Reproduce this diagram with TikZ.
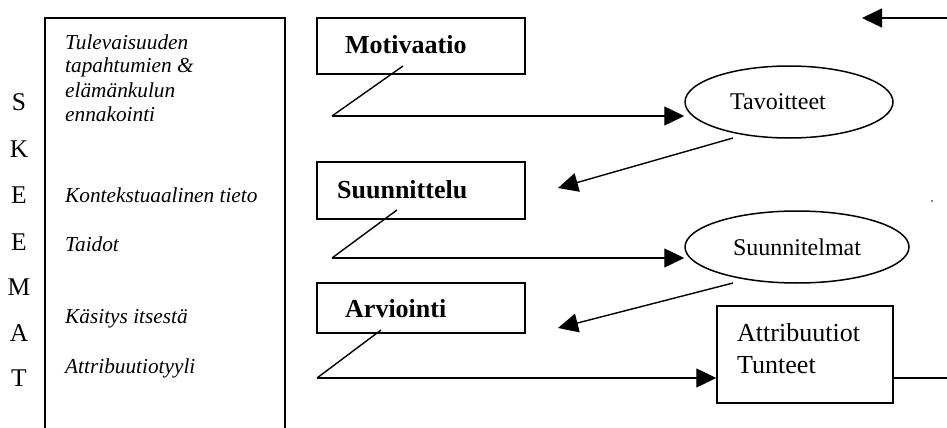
\documentclass[tikz,border=0pt]{standalone}
\usepackage{fontspec}
\setmainfont{Liberation Serif}
\usetikzlibrary{arrows.meta,shapes.geometric}

\tikzset{
  stagebox/.style={draw, line width=1.5pt, inner sep=0pt},
  goalnode/.style={draw, ellipse, line width=1.5pt, inner sep=0pt,
    font=\fontsize{24}{28}\selectfont},
  stagetext/.style={anchor=base west, inner sep=0pt, font=\fontsize{26}{30}\selectfont\bfseries},
  schematext/.style={anchor=base west, inner sep=0pt, font=\fontsize{21.3}{24}\selectfont\itshape},
  letter/.style={anchor=base, inner sep=0pt, font=\fontsize{25.5}{28}\selectfont},
  link/.style={line width=1.4pt},
  arr/.style={line width=1.4pt, -{Triangle[length=20pt,width=19pt]}},
}

\begin{document}
\begin{tikzpicture}[x=1pt,y=-1pt]
\useasboundingbox (0,0) rectangle (947,428);

% skemat
\draw[line width=1.5pt] (45,428) -- (45,18) -- (285,18) -- (285,428);
\node[letter] (s1) at (19,110) {S};
\node[letter] (s2) at (19,157) {K};
\node[letter] (s3) at (19,203) {E};
\node[letter] (s4) at (19,250) {E};
\node[letter] (s5) at (19,295) {M};
\node[letter] (s6) at (19,341) {A};
\node[letter] (s7) at (19,386) {T};

\node[schematext] (tul1) at (65,49) {Tulevaisuuden};
\node[schematext] (tul2) at (65,73) {tapahtumien \&};
\node[schematext] (tul3) at (65,97) {elämänkulun};
\node[schematext] (tul4) at (65,121) {ennakointi};
\node[schematext] (kon) at (65,202) {Kontekstuaalinen tieto};
\node[schematext] (tai) at (65,251) {Taidot};
\node[schematext] (kas) at (65,323) {Käsitys itsestä};
\node[schematext] (att) at (65,373) {Attribuutiotyyli};

% stages
\node[stagebox, minimum width=208pt, minimum height=56pt] (mot) at (421,46) {};
\node[stagetext] (mottext) at (345,53) {Motivaatio};
\node[stagebox, minimum width=208pt, minimum height=57pt] (sun) at (421,190.5) {};
\node[stagetext] (suntext) at (337,198) {Suunnittelu};
\node[stagebox, minimum width=208pt, minimum height=50pt] (arv) at (421,308) {};
\node[stagetext] (arvtext) at (345,317) {Arviointi};

% outcomes
\node[goalnode, minimum width=208pt, minimum height=72pt] (tav) at (789,102) {Tavoitteet\hspace*{22pt}};
\node[goalnode, minimum width=224pt, minimum height=72pt] (sui) at (797,247) {Suunnitelmat};
\node[stagebox, minimum width=176pt, minimum height=97pt] (attr) at (805,354.5) {};
\node[anchor=base west, inner sep=0pt, font=\fontsize{26}{30}\selectfont] (attr1) at (737,341) {Attribuutiot};
\node[anchor=base west, inner sep=0pt, font=\fontsize{26}{30}\selectfont] (attr2) at (737,373) {Tunteet};

% connectors
\coordinate (mot-a) at (403,66);
\coordinate (mot-b) at (332,116);
\coordinate (tav-out) at (733,138);
\coordinate (sun-in) at (558,188);
\coordinate (sun-a) at (397,210);
\coordinate (sun-b) at (332,258);
\coordinate (sui-out) at (733,283);
\coordinate (arv-in) at (558,328);
\coordinate (arv-a) at (381,330);
\coordinate (arv-b) at (317,378);
\coordinate (edge-r) at (947,378);
\coordinate (edge-t) at (947,18);
\coordinate (top-in) at (862,18);

\draw[link] (mot-a) -- (mot-b);
\draw[arr] (mot-b) -- (tav.west |- mot-b);
\draw[arr] (tav-out) -- (sun-in);
\draw[link] (sun-a) -- (sun-b);
\draw[arr] (sun-b) -- (sui.west |- sun-b);
\draw[arr] (sui-out) -- (arv-in);
\draw[link] (arv-a) -- (arv-b);
\draw[arr] (arv-b) -- (attr.west |- arv-b);
\draw[link] (attr.east |- arv-b) -- (edge-r);
\draw[arr] (edge-t) -- (top-in);

\fill (932,201) circle (0.9);

\end{tikzpicture}
\end{document}
